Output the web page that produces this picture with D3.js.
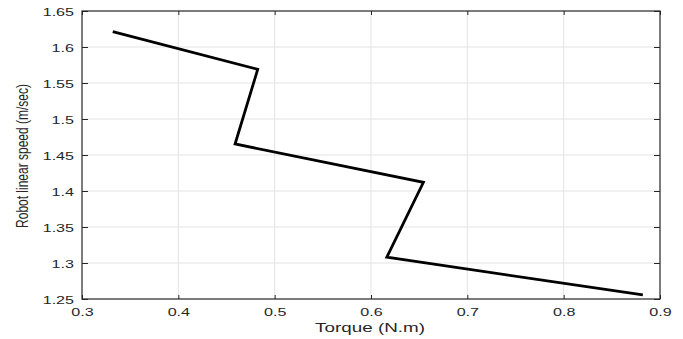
<!DOCTYPE html>
<html>
<head>
<meta charset="utf-8">
<script src="https://cdn.jsdelivr.net/npm/d3@7"></script>
<style>
html,body{margin:0;padding:0;background:#fff;}
svg text{font-family:"Liberation Sans",Arial,Helvetica,sans-serif;fill:#262626;}
</style>
</head>
<body>
<svg id="chart" width="683" height="339"></svg>
<script>
const torque = [0.3319, 0.4824, 0.4589, 0.6544, 0.6164, 0.8822];
const speed  = [1.6213, 1.5690, 1.4653, 1.4121, 1.3080, 1.2556];
const xTicks = [0.3, 0.4, 0.5, 0.6, 0.7, 0.8, 0.9];
const yTicks = [1.25, 1.3, 1.35, 1.4, 1.45, 1.5, 1.55, 1.6, 1.65];
const xLabel = "Torque (N.m)";
const yLabel = "Robot linear speed (m/sec)";

const svg = d3.select("#chart");
const L = 82, R = 660, T = 11, B = 299;
const x = d3.scaleLinear().domain([0.3, 0.9]).range([L, R]);
const y = d3.scaleLinear().domain([1.25, 1.65]).range([B, T]);
const SX = 1.4;
const axisColor = "#262626";

// grid
svg.append("g").selectAll("line").data(xTicks.slice(1, -1)).join("line")
  .attr("x1", d => x(d)).attr("x2", d => x(d)).attr("y1", T).attr("y2", B)
  .attr("stroke", "#e3e3e3").attr("stroke-width", 1);
svg.append("g").selectAll("line").data(yTicks.slice(1, -1)).join("line")
  .attr("x1", L).attr("x2", R).attr("y1", d => y(d)).attr("y2", d => y(d))
  .attr("stroke", "#e3e3e3").attr("stroke-width", 1);

const fmt = d => String(+d.toFixed(2));
function styleAxis(g) {
  g.select(".domain").remove();
  g.selectAll(".tick line").attr("stroke", axisColor).attr("stroke-width", 1);
}
const xb = svg.append("g").attr("transform", `translate(0,${B})`)
  .call(d3.axisBottom(x).tickValues(xTicks).tickSize(-4).tickFormat(fmt));
styleAxis(xb);
xb.selectAll(".tick text").attr("font-size", 11.5).attr("dy", null).attr("y", 0)
  .attr("fill", axisColor)
  .attr("transform", `translate(0,17) scale(${SX},1)`);
const xt = svg.append("g").attr("transform", `translate(0,${T})`)
  .call(d3.axisTop(x).tickValues(xTicks).tickSize(-4).tickFormat(""));
styleAxis(xt);
const yl = svg.append("g").attr("transform", `translate(${L},0)`)
  .call(d3.axisLeft(y).tickValues(yTicks).tickSize(-6).tickFormat(fmt));
styleAxis(yl);
yl.selectAll(".tick text").attr("font-size", 11.5).attr("x", 0).attr("dy", "0.35em")
  .attr("text-anchor", "end").attr("fill", axisColor)
  .attr("transform", `translate(-8,0) scale(${SX},1)`);
const yr = svg.append("g").attr("transform", `translate(${R},0)`)
  .call(d3.axisRight(y).tickValues(yTicks).tickSize(-6).tickFormat(""));
styleAxis(yr);

// box
svg.append("rect").attr("x", L).attr("y", T).attr("width", R - L).attr("height", B - T)
  .attr("fill", "none").attr("stroke", axisColor).attr("stroke-width", 1.2);

// line
const pts = torque.map((t, i) => [t, speed[i]]);
svg.append("path").datum(pts)
  .attr("d", d3.line().x(d => x(d[0])).y(d => y(d[1])))
  .attr("fill", "none").attr("stroke", "#000").attr("stroke-width", 2.8)
  .attr("stroke-linejoin", "miter");

// labels
svg.append("text").attr("transform", `translate(370,332) scale(1.45,1)`)
  .attr("text-anchor", "middle").attr("font-size", 13).text(xLabel);
svg.append("text").attr("transform", `translate(28,156) scale(${SX},1) rotate(-90)`)
  .attr("text-anchor", "middle").attr("font-size", 12).text(yLabel);
</script>
</body>
</html>
